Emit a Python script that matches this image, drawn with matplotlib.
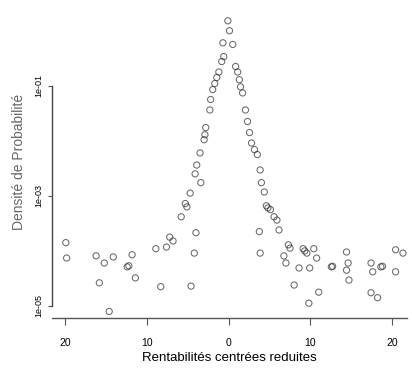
import matplotlib
matplotlib.use("Agg")
import matplotlib.pyplot as plt
import numpy as np

plt.rcParams['font.family'] = ['Liberation Sans', 'DejaVu Sans']

# Standardised returns (x) and estimated density (log10 of y)
x_vals = [-0.1, 0.1, -0.7, 0.5, -0.6, -0.85, -1.2, -1.45, -1.7, -1.95, -2.2, -2.3,
          -2.8, -2.9, -3.0, -3.5, -3.9, -4.1, -3.4, -4.7, -5.3, -5.1, -5.8, -7.2,
          -6.8, -7.6, -8.9, -4.0, -4.2, -8.3, -4.6,
          -19.9, -19.8, -16.2, -15.2, -14.1, -12.4, -12.2, -11.8, -11.4, -15.8, -14.6,
          0.85, 1.1, 1.3, 1.45, 1.7, 2.05, 2.3, 2.55, 2.8, 3.15, 3.5, 3.85, 4.0, 4.35,
          4.6, 4.8, 5.1, 5.55, 5.9, 6.15, 3.75, 3.85, 7.3, 7.5, 9.1, 9.3, 9.55, 10.4,
          10.75, 6.75, 7.0, 8.6, 9.9, 8.0, 11.0, 9.8,
          12.55, 12.7, 14.4, 14.6, 14.7, 14.4, 17.4, 18.6, 18.8, 17.6, 20.4, 21.3,
          20.4, 17.4, 18.2]
log_density = [0.18, 0.0, -0.22, -0.25, -0.47, -0.56, -0.75, -0.85, -0.96, -1.07,
               -1.25, -1.44, -1.76, -1.89, -1.98, -2.22, -2.44, -2.6, -2.76, -2.95,
               -3.14, -3.2, -3.38, -3.75, -3.82, -3.93, -3.96, -3.67, -4.04, -4.65, -4.64,
               -3.85, -4.13, -4.09, -4.22, -4.11, -4.29, -4.27, -4.07, -4.49, -4.58, -5.1,
               -0.65, -0.75, -0.89, -1.02, -1.13, -1.44, -1.65, -1.85, -2.04, -2.16,
               -2.25, -2.53, -2.76, -2.93, -3.18, -3.22, -3.25, -3.38, -3.44, -3.62,
               -3.65, -4.04, -3.89, -3.95, -3.96, -4.0, -4.04, -3.96, -4.13, -4.09,
               -4.22, -4.31, -4.31, -4.62, -4.75, -4.95,
               -4.29, -4.28, -4.35, -4.22, -4.53, -4.02, -4.22, -4.29, -4.28, -4.38,
               -3.98, -4.04, -4.38, -4.76, -4.85]

x_ticks = [-20, -10, 0, 10, 20]
x_tick_labels = ["20", "10", "0", "10", "20"]
y_ticks = [1e-5, 1e-3, 1e-1]
y_tick_labels = ["1e-05", "1e-03", "1e-01"]

density = 10.0 ** np.array(log_density)

fig = plt.figure(figsize=(4.12, 3.72), dpi=100)
ax = fig.add_axes([0.126, 0.145, 0.862, 0.842])

ax.scatter(x_vals, density, s=20, facecolors='none', edgecolors='#2a2a2a',
           linewidths=0.75, alpha=0.7)

ax.set_yscale('log')
ax.set_xlim(-21.6, 21.8)
ax.set_ylim(10 ** -5.22, 10 ** 0.47)

ax.set_xticks(x_ticks)
ax.set_xticklabels(x_tick_labels, fontsize=7.5)
ax.set_yticks(y_ticks)
ax.set_yticklabels(y_tick_labels, fontsize=6.5, rotation=90, va='center')
ax.yaxis.set_minor_locator(matplotlib.ticker.NullLocator())

for s in ['top', 'right']:
    ax.spines[s].set_visible(False)
ax.spines['left'].set_bounds(1e-5, 1e-1)
ax.spines['left'].set_color('#444444')
ax.spines['bottom'].set_color('#555555')
ax.spines['left'].set_linewidth(1.0)
ax.spines['bottom'].set_linewidth(1.0)

ax.tick_params(axis='x', length=5, width=0.8, color='#555555', pad=9)
ax.tick_params(axis='y', length=3, width=0.8, color='#555555', pad=3)

ax.set_xlabel("Rentabilités centrées reduites", fontsize=9.5, labelpad=3)
ax.set_ylabel("Densité de Probabilité", fontsize=10, color='#666666', labelpad=6)

fig.savefig("out.png", dpi=100)
